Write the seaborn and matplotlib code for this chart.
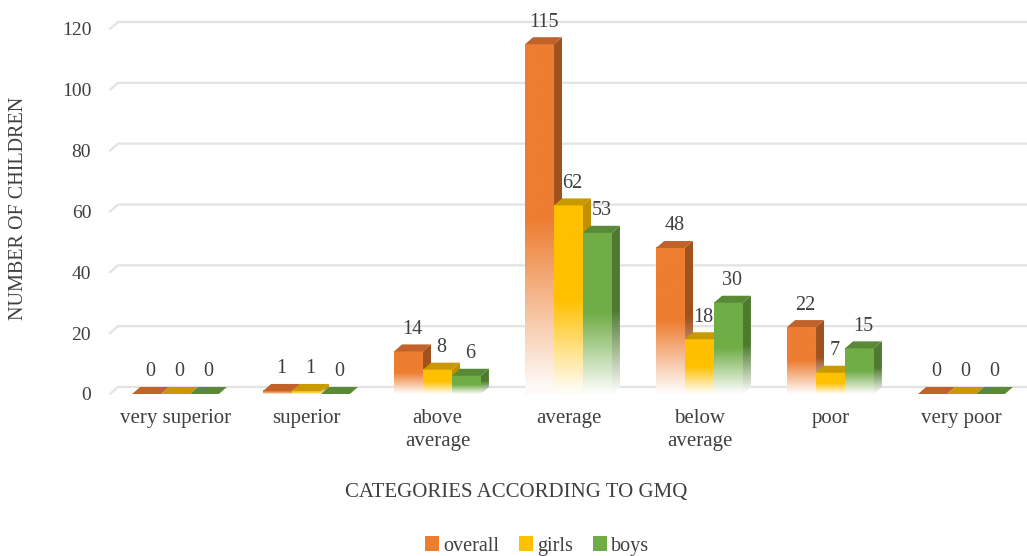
import numpy as np
import pandas as pd
import matplotlib
matplotlib.use("Agg")
import matplotlib.pyplot as plt
import seaborn as sns
from matplotlib.colors import to_rgb
from matplotlib.patches import Patch, Polygon

# data
categories = ["very superior", "superior", "above\naverage", "average",
              "below\naverage", "poor", "very poor"]
series = ["overall", "girls", "boys"]
overall = [0, 1, 14, 115, 48, 22, 0]
girls = [0, 1, 8, 62, 18, 7, 0]
boys = [0, 0, 6, 53, 30, 15, 0]
y_ticks = [0, 20, 40, 60, 80, 100, 120]

front_colors = {"overall": "#ED7D31", "girls": "#FFC000", "boys": "#70AD47"}
side_colors = {"overall": "#A0521E", "girls": "#BF9000", "boys": "#4E7A30"}
top_colors = {"overall": "#C0622A", "girls": "#C89A00", "boys": "#5A8A38"}

df = pd.DataFrame({
    "category": categories * 3,
    "group": [s for s in series for _ in categories],
    "count": overall + girls + boys,
})

sns.set_theme(style="white")
plt.rcParams["font.family"] = ["Liberation Serif", "DejaVu Serif"]
TEXT = "#404040"

W, H = 1027, 556
fig = plt.figure(figsize=(W / 100, H / 100), dpi=100)
ax_px = (110, 162, 917, 372)  # left, bottom, width, height in pixels
ax = fig.add_axes([ax_px[0] / W, ax_px[1] / H, ax_px[2] / W, ax_px[3] / H])

sns.barplot(data=df, x="category", y="count", hue="group", palette=front_colors,
            width=0.663, saturation=1, errorbar=None, legend=False, ax=ax)

# fake 3d depth, in data units
y_top = 122.3
xlim = (-0.5, 6.5)
px_x = ax_px[2] / (xlim[1] - xlim[0])
px_y = ax_px[3] / y_top
ddx = 8 / px_x
ddy = 7 / px_y


def fade(color, n=200):
    """column image that is solid on top and fades to white at the bottom"""
    rgb = np.array(to_rgb(color))
    frac = np.linspace(0, 1, n)
    t = np.clip(frac / 0.5, 0.04, 1.0)[:, None]
    img = rgb * t + (1 - t)
    return img[:, None, :]


bars = []
for container, name in zip(ax.containers, series):
    for patch in container.patches:
        bars.append((patch.get_x(), patch.get_width(), patch.get_height(), name))
        patch.set_visible(False)
bars.sort(key=lambda b: b[0])

z = 2
for x0, w, h, name in bars:
    x1 = x0 + w
    if h > 0:
        side = Polygon([(x1, 0), (x1, h), (x1 + ddx, h + ddy), (x1 + ddx, ddy)],
                       closed=True, transform=ax.transData)
        im = ax.imshow(fade(side_colors[name]), extent=(x1, x1 + ddx, 0, h + ddy),
                       origin="lower", aspect="auto", interpolation="bilinear", zorder=z)
        im.set_clip_path(side)
        ax.imshow(fade(front_colors[name]), extent=(x0, x1, 0, h),
                  origin="lower", aspect="auto", interpolation="bilinear", zorder=z + 0.1)
    top = Polygon([(x0, h), (x1, h), (x1 + ddx, h + ddy), (x0 + ddx, h + ddy)],
                  closed=True, facecolor=top_colors[name], edgecolor="none",
                  zorder=z + 0.2, clip_on=False)
    ax.add_patch(top)
    ax.annotate(f"{h:.0f}", (x0 + w / 2 + ddx / 2, h + ddy), xytext=(0, 10.8),
                textcoords="offset points", ha="center", va="center",
                fontsize=14.5, color=TEXT, zorder=20)
    z += 1

# gridlines on the back wall with the floor diagonal
for v in y_ticks:
    ax.plot([xlim[0], xlim[0] + ddx, xlim[1]], [v, v + ddy, v + ddy],
            color="#E3E3E3", lw=1.6, zorder=0, clip_on=False)

ax.set_xlim(*xlim)
ax.set_ylim(0, y_top)
ax.set_yticks(y_ticks)
for s in ax.spines.values():
    s.set_visible(False)
ax.tick_params(axis="y", length=0, pad=13.5, labelsize=14, labelcolor=TEXT)
ax.tick_params(axis="x", length=0, pad=11, labelsize=15, labelcolor=TEXT)
for lbl in ax.get_xticklabels():
    lbl.set_linespacing(1.25)
ax.set_xlabel("")
ax.set_ylabel("NUMBER OF CHILDREN", fontsize=14.5, color=TEXT)
ax.yaxis.set_label_coords((28 - ax_px[0]) / ax_px[2], 0.5)

fig.text(516 / W, 1 - 492 / H, "CATEGORIES ACCORDING TO GMQ", ha="center",
         va="center", fontsize=15, color=TEXT)

handles = [Patch(facecolor=front_colors[s], edgecolor="none") for s in series]
fig.legend(handles, series, loc="center", bbox_to_anchor=(537 / W, 1 - 546 / H),
           ncol=3, frameon=False, fontsize=14.5, handlelength=0.7, handleheight=0.7,
           handletextpad=0.2, columnspacing=1.0, labelcolor=TEXT)

fig.savefig("out.png", dpi=100)
